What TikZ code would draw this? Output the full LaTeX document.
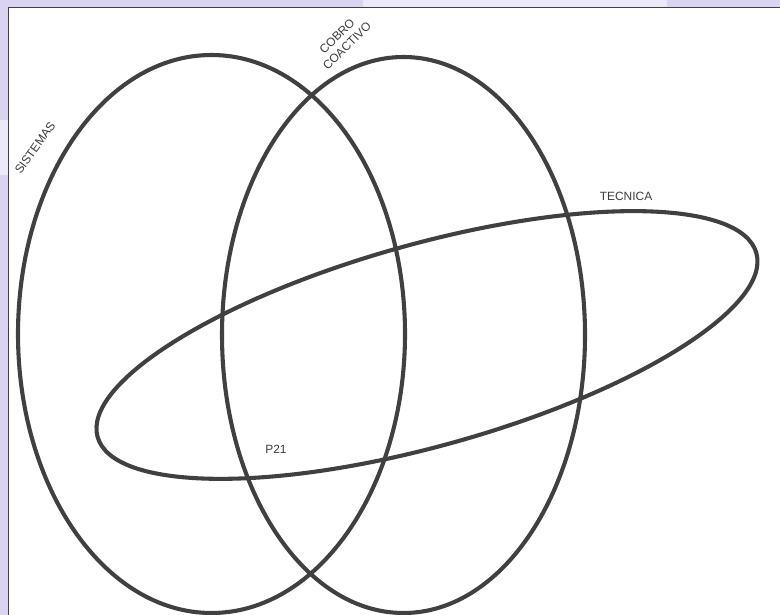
\documentclass[tikz,border=0pt]{standalone}
\usepackage{fontspec}
\setmainfont{Liberation Sans}
\definecolor{lav}{RGB}{218,211,242}
\definecolor{lavlight}{RGB}{236,233,248}
\definecolor{ink}{RGB}{64,64,64}
\definecolor{txt}{RGB}{60,60,60}
\tikzset{
  setline/.style={draw=ink, line width=2.9pt},
  lbl/.style={text=txt, font=\fontsize{8.5}{10}\selectfont, inner sep=0pt},
}
\begin{document}
\begin{tikzpicture}[x={(0.025cm,0)}, y={(0,-0.025cm)}]
\useasboundingbox (0,0) rectangle (780,615);
% background outside the frame
\fill[lav] (0,0) rectangle (780,615);
\fill[lavlight] (363,0) rectangle (667,7);
\fill[lavlight] (0,120) rectangle (8,175);
\fill[white] (8,7) rectangle (780,615);
\draw[ink, line width=0.7pt] (8,615) -- (8,7) -- (780,7);
% sets
\coordinate (cs) at (211.5,334);
\coordinate (cc) at (403.5,335);
\coordinate (ct) at (427,345);
\draw[setline] (cs) ellipse [x radius=193.5, y radius=279];
\draw[setline] (cc) ellipse [x radius=181.5, y radius=278];
\draw[setline, rotate around={15.6:(ct)}] (ct) ellipse [x radius=342, y radius=101];
% labels
\node[lbl, rotate=54.5] (sis) at (35,148) {SISTEMAS};
\node[lbl, rotate=45, align=center] (cob) at (342,41) {COBRO\\COACTIVO};
\node[lbl] (tec) at (626,196) {TECNICA};
\node[lbl] (p21) at (276,449) {P21};
\end{tikzpicture}
\end{document}
